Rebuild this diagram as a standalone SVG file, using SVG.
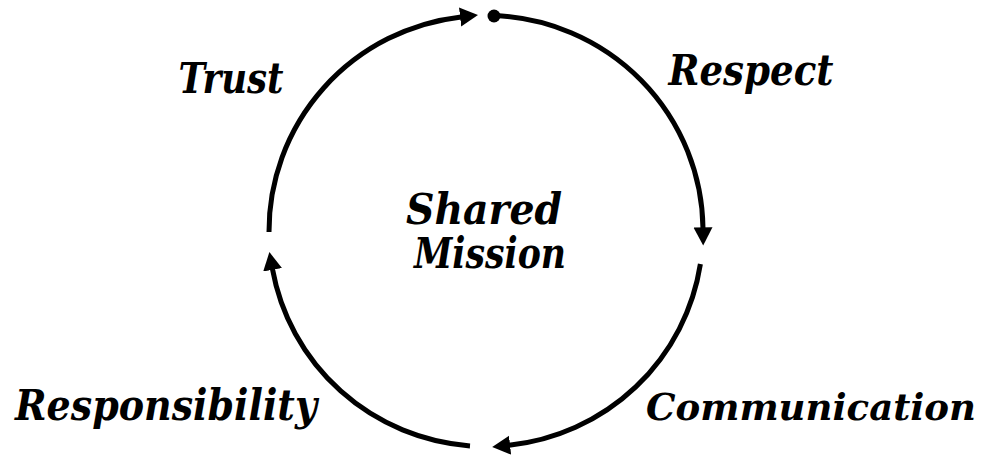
<svg xmlns="http://www.w3.org/2000/svg" width="988" height="456" viewBox="0 0 988 456">
<style>
.arc{fill:none;stroke:#000;stroke-width:5;marker-end:url(#ah)}
.lbl{font-family:"DejaVu Serif","Liberation Serif",serif;font-weight:bold;font-style:italic;font-size:42px;fill:#000;text-anchor:middle}
</style>
<defs>
<marker id="ah" markerUnits="userSpaceOnUse" markerWidth="22" markerHeight="22" viewBox="0 0 22 22" refX="1" refY="10" orient="auto">
<path d="M0,0.5 L18,10 L0,19.5 z" fill="#000"/>
</marker>
</defs>
<rect width="988" height="456" fill="#fff"/>
<g id="connectors">
<path class="arc" d="M494,15.6 A217,215.5 0 0 1 703,228.4"/>
<path class="arc" d="M700.4,264 A217,215.5 0 0 1 509.1,445.3"/>
<path class="arc" d="M470,445.9 A217,215.5 0 0 1 272.4,268.8"/>
<path class="arc" d="M269,232 A217,215.5 0 0 1 461.1,16.9"/>
<circle cx="494" cy="16" r="6.5" fill="#000"/>
</g>
<g id="trust"><text class="lbl" x="231" y="93" textLength="105" lengthAdjust="spacingAndGlyphs">Trust</text></g>
<g id="respect"><text class="lbl" x="751" y="85" textLength="165" lengthAdjust="spacingAndGlyphs">Respect</text></g>
<g id="mission"><text class="lbl" x="484" y="224" textLength="156" lengthAdjust="spacingAndGlyphs">Shared</text><text class="lbl" x="490" y="268" textLength="152" lengthAdjust="spacingAndGlyphs">Mission</text></g>
<g id="responsibility"><text class="lbl" x="166" y="420" textLength="302" lengthAdjust="spacingAndGlyphs">Responsibility</text></g>
<g id="communication"><text class="lbl" x="811" y="420" textLength="330" lengthAdjust="spacingAndGlyphs" style="font-size:37px">Communication</text></g>
</svg>
